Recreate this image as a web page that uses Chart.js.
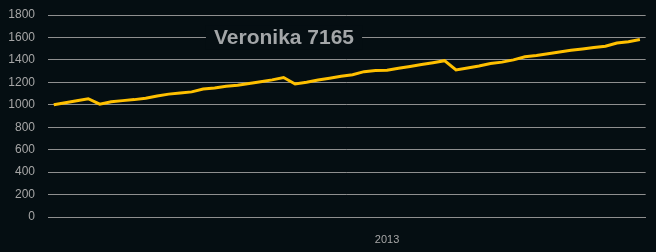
<!DOCTYPE html>
<html>
<head>
<meta charset="utf-8">
<script src="https://cdn.jsdelivr.net/npm/chart.js@4.4.0/dist/chart.umd.min.js"></script>
<style>
html,body{margin:0;padding:0;background:#050e12;}
#wrap{width:656px;height:252px;position:relative;}
</style>
</head>
<body>
<div id="wrap"><canvas id="c" width="656" height="252"></canvas></div>
<script>
const chartTitle = 'Veronika 7165';
const categories = ['W01','W02','W03','W04','W05','W06','W07','W08','W09','W10','W11','W12','W13','W14','W15','W16','W17','W18','W19','W20','W21','W22','W23','W24','W25','W26','W27','W28','W29','W30','W31','W32','W33','W34','W35','W36','W37','W38','W39','W40','W41','W42','W43','W44','W45','W46','W47','W48','W49','W50','W51','W52'];
const values = [1000,1018,1036,1054,1005,1027,1037,1046,1058,1078,1095,1105,1115,1140,1150,1165,1175,1190,1205,1222,1243,1185,1200,1220,1237,1255,1268,1295,1305,1308,1325,1342,1358,1375,1393,1310,1328,1345,1368,1380,1400,1428,1440,1455,1470,1485,1498,1510,1522,1550,1562,1582];
const xTickLabel = '2013';
const xTickIndex = 29;
const yTicks = [0,200,400,600,800,1000,1200,1400,1600,1800];

const bg = '#050e12';
const areaTop = 15;
const fixTopPlugin = {
  id: 'fixTop',
  afterLayout(chart) {
    const y = chart.scales.y;
    if (Math.abs(chart.chartArea.top - areaTop) > 0.5) {
      chart.chartArea.top = areaTop;
      chart.chartArea.height = chart.chartArea.bottom - areaTop;
      y.top = areaTop;
      y.height = y.bottom - areaTop;
      y.configure();
    }
  }
};
const titlePlugin = {
  id: 'inTitle',
  afterDraw(chart) {
    const ctx = chart.ctx;
    const y = chart.scales.y.getPixelForValue(1600);
    ctx.save();
    ctx.font = 'bold 21px "Liberation Sans", Arial, sans-serif';
    const w = ctx.measureText(chartTitle).width;
    const cx = 284;
    ctx.fillStyle = bg;
    ctx.fillRect(cx - w/2 - 8, y - 12, w + 16, 24);
    ctx.fillStyle = '#a3a6a8';
    ctx.textAlign = 'center';
    ctx.textBaseline = 'middle';
    ctx.fillText(chartTitle, cx, y + 1);
    ctx.restore();
  }
};

new Chart(document.getElementById('c'), {
  type: 'line',
  data: {
    labels: categories,
    datasets: [{
      data: values,
      borderColor: '#ffc000',
      borderWidth: 3,
      pointRadius: 0,
      tension: 0,
      fill: false
    }]
  },
  options: {
    responsive: false,
    animation: false,
    events: [],
    layout: { autoPadding: false, padding: { top: 9.8, right: 10, bottom: 0, left: 0 } },
    plugins: { legend: { display: false }, tooltip: { enabled: false }, title: { display: false } },
    scales: {
      x: {
        type: 'category',
        offset: true,
        afterFit(scale) { scale.height = 35; },
        grid: { display: false, drawTicks: false },
        border: { display: true, color: '#8f8f8f', width: 1 },
        ticks: {
          autoSkip: false,
          maxRotation: 0,
          color: '#a6a6a6',
          font: { family: '"Liberation Sans", Arial, sans-serif', size: 11 },
          padding: 16,
          callback: (v, i) => i === xTickIndex ? xTickLabel : ''
        }
      },
      y: {
        min: 0,
        max: 1800,
        afterBuildTicks(scale) { scale.ticks = yTicks.map(v => ({ value: v })); },
        afterFit(scale) { scale.width = 48; },
        grid: { color: '#8f8f8f', lineWidth: 1, drawTicks: false },
        border: { display: false },
        ticks: {
          color: '#a6a6a6',
          font: { family: '"Liberation Sans", Arial, sans-serif', size: 12 },
          padding: 13,
          callback: v => String(v)
        }
      }
    }
  },
  plugins: [fixTopPlugin, titlePlugin]
});
</script>
</body>
</html>
